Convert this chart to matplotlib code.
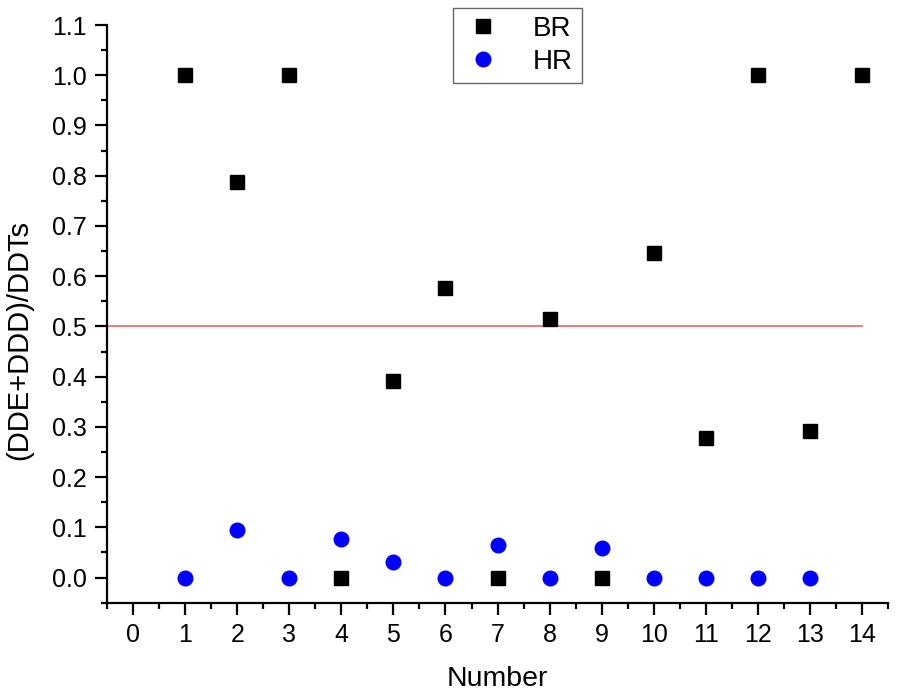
import numpy as np
import matplotlib
matplotlib.use("Agg")
import matplotlib.pyplot as plt
from matplotlib.ticker import MultipleLocator, FormatStrFormatter

# values
number = [1, 2, 3, 4, 5, 6, 7, 8, 9, 10, 11, 12, 13, 14]
br = [1.0, 0.788, 1.0, 0.0, 0.391, 0.576, 0.0, 0.515, 0.0, 0.647, 0.277, 1.0, 0.291, 1.0]
hr_number = [1, 2, 3, 4, 5, 6, 7, 8, 9, 10, 11, 12, 13]
hr = [0.0, 0.094, 0.0, 0.076, 0.032, 0.0, 0.064, 0.0, 0.059, 0.0, 0.0, 0.0, 0.0]
threshold = 0.5

plt.rcParams['font.family'] = ['Liberation Sans', 'DejaVu Sans']

fig = plt.figure(figsize=(8.98, 6.93), dpi=100)
ax = fig.add_axes([0.1192, 0.1303, 0.8697, 0.8336])

ax.plot(number, br, 's', color='black', markersize=9.5, label='BR', zorder=3)
ax.plot(hr_number, hr, 'o', color='#0000ff', markersize=10.5, label='HR', zorder=3)
ax.plot([-0.5, 14], [threshold, threshold], color='#f06060', linewidth=1.2, zorder=2)

ax.set_xlim(-0.5, 14.5)
ax.set_ylim(-0.05, 1.1)
ax.xaxis.set_major_locator(MultipleLocator(1))
ax.xaxis.set_minor_locator(MultipleLocator(0.5))
ax.yaxis.set_major_locator(MultipleLocator(0.1))
ax.yaxis.set_minor_locator(MultipleLocator(0.05))
ax.yaxis.set_major_formatter(FormatStrFormatter('%.1f'))

for side in ['top', 'right']:
    ax.spines[side].set_visible(False)
for side in ['left', 'bottom']:
    ax.spines[side].set_linewidth(1.6)

ax.tick_params(which='major', direction='out', length=8.5, width=1.6, labelsize=18, pad=6)
ax.tick_params(which='minor', direction='out', length=4.5, width=1.6)

ax.set_xlabel('Number', fontsize=20.5, labelpad=14)
ax.set_ylabel('(DDE+DDD)/DDTs', fontsize=21, labelpad=8)
ax.yaxis.set_label_coords(-0.094, 0.455)

leg = ax.legend(loc='upper center', bbox_to_anchor=(0.525, 1.03), fontsize=20,
                frameon=True, fancybox=False, edgecolor='#404040', handletextpad=1.0,
                borderpad=0.3, labelspacing=0.25, handlelength=1.6, borderaxespad=0)
leg.get_frame().set_linewidth(1.0)

fig.savefig('out.png', dpi=100)
